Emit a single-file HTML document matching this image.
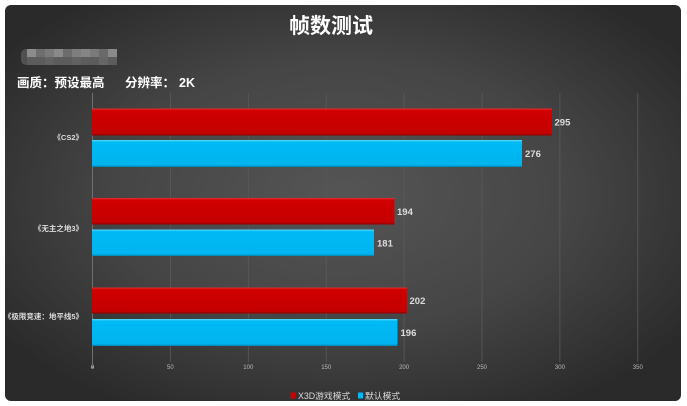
<!DOCTYPE html>
<html><head><meta charset="utf-8">
<style>
html,body{margin:0;padding:0;background:#fff;}
body{width:687px;height:406px;overflow:hidden;position:relative;}
svg{position:absolute;left:0;top:0;}
text{font-family:"Liberation Sans","Noto Sans CJK SC",sans-serif;}
</style></head>
<body>
<svg width="687" height="406" viewBox="0 0 687 406" xmlns="http://www.w3.org/2000/svg">
<defs>
<radialGradient id="bg" cx="0.5" cy="0.48" r="0.62">
<stop offset="0" stop-color="#555555"/>
<stop offset="0.55" stop-color="#454545"/>
<stop offset="1" stop-color="#2a2a2a"/>
</radialGradient>
<linearGradient id="red" x1="0" y1="0" x2="0" y2="1">
<stop offset="0" stop-color="#e83030"/>
<stop offset="0.08" stop-color="#d00000"/>
<stop offset="0.92" stop-color="#c40000"/>
<stop offset="1" stop-color="#8a0000"/>
</linearGradient>
<linearGradient id="blue" x1="0" y1="0" x2="0" y2="1">
<stop offset="0" stop-color="#60dcff"/>
<stop offset="0.08" stop-color="#00baf5"/>
<stop offset="0.92" stop-color="#00b4ef"/>
<stop offset="1" stop-color="#0082b0"/>
</linearGradient>
</defs>
<rect x="5" y="5" width="676" height="396" rx="6" ry="6" fill="url(#bg)"/>

<!-- title -->
<text x="331" y="33" font-size="21" font-weight="bold" fill="#ffffff" text-anchor="middle">帧数测试</text>

<!-- mosaic -->
<rect x="21" y="49" width="10" height="16" rx="5" fill="#505050"/>
<rect x="27" y="49" width="9" height="8" fill="#8c8c8c"/>
<rect x="36" y="49" width="9" height="8" fill="#6e6e6e"/>
<rect x="45" y="49" width="9" height="8" fill="#7a7a7a"/>
<rect x="54" y="49" width="9" height="8" fill="#8a8a8a"/>
<rect x="63" y="49" width="9" height="8" fill="#6c6c6c"/>
<rect x="72" y="49" width="9" height="8" fill="#7e7e7e"/>
<rect x="81" y="49" width="9" height="8" fill="#858585"/>
<rect x="90" y="49" width="9" height="8" fill="#7a7a7a"/>
<rect x="99" y="49" width="9" height="8" fill="#6a6a6a"/>
<rect x="108" y="49" width="9" height="8" fill="#8a8a8a"/>
<rect x="27" y="57" width="90" height="8" fill="#5c5c5c"/>
<rect x="45" y="57" width="9" height="8" fill="#626262"/>
<rect x="72" y="57" width="9" height="8" fill="#616161"/>
<rect x="99" y="57" width="9" height="8" fill="#666666"/>

<!-- subtitle -->
<text x="17" y="87" font-size="12.5" font-weight="bold" fill="#ffffff">画质：预设最高</text>
<text x="125" y="87" font-size="12.5" font-weight="bold" fill="#ffffff">分辨率：</text>
<text x="179" y="87" font-size="12.5" font-weight="bold" fill="#ffffff">2K</text>

<!-- gridlines -->
<g stroke="#5a5a5a" stroke-width="0.8">
<line x1="170.4" y1="93" x2="170.4" y2="362"/>
<line x1="248.3" y1="93" x2="248.3" y2="362"/>
<line x1="326.2" y1="93" x2="326.2" y2="362"/>
<line x1="404.1" y1="93" x2="404.1" y2="362"/>
<line x1="482" y1="93" x2="482" y2="362"/>
<line x1="559.9" y1="93" x2="559.9" y2="362"/>
<line x1="637.8" y1="93" x2="637.8" y2="362"/>
</g>
<line x1="92.5" y1="93" x2="92.5" y2="364" stroke="#707070" stroke-width="1"/>
<circle cx="92.5" cy="367" r="1.3" fill="#8a8a8a"/>

<!-- tick labels -->
<g font-size="6" fill="#bbbbbb" text-anchor="middle">
<text x="92.5" y="369">0</text>
<text x="170.4" y="369">50</text>
<text x="248.3" y="369">100</text>
<text x="326.2" y="369">150</text>
<text x="404.1" y="369">200</text>
<text x="482" y="369">250</text>
<text x="559.9" y="369">300</text>
<text x="637.8" y="369">350</text>
</g>

<!-- bars -->
<rect x="92" y="108.5" width="459.7" height="27" fill="url(#red)"/>
<rect x="92" y="140" width="430" height="27" fill="url(#blue)"/>
<rect x="92" y="198" width="302.3" height="26.5" fill="url(#red)"/>
<rect x="92" y="229.5" width="282" height="26.5" fill="url(#blue)"/>
<rect x="92" y="287.5" width="314.7" height="26" fill="url(#red)"/>
<rect x="92" y="319" width="305.4" height="27" fill="url(#blue)"/>

<!-- value labels -->
<g font-size="9.5" font-weight="bold" fill="#dddddd">
<text x="554.5" y="125.5">295</text>
<text x="525" y="157">276</text>
<text x="397" y="215">194</text>
<text x="377" y="246.5">181</text>
<text x="409.5" y="304">202</text>
<text x="400.5" y="336">196</text>
</g>

<!-- category labels -->
<g font-size="7.5" font-weight="bold" fill="#dddddd" text-anchor="end">
<text x="83" y="140">《CS2》</text>
<text x="83" y="231">《无主之地3》</text>
<text x="83" y="319">《极限竞速：地平线5》</text>
</g>

<!-- legend -->
<rect x="290.5" y="392.5" width="5" height="6" fill="#d00000"/>
<text x="298" y="399" font-size="8.8" fill="#dddddd">X3D游戏模式</text>
<rect x="358" y="392.5" width="5" height="6" fill="#00b8f2"/>
<text x="365" y="399" font-size="8.8" fill="#dddddd">默认模式</text>
</svg>
</body></html>
